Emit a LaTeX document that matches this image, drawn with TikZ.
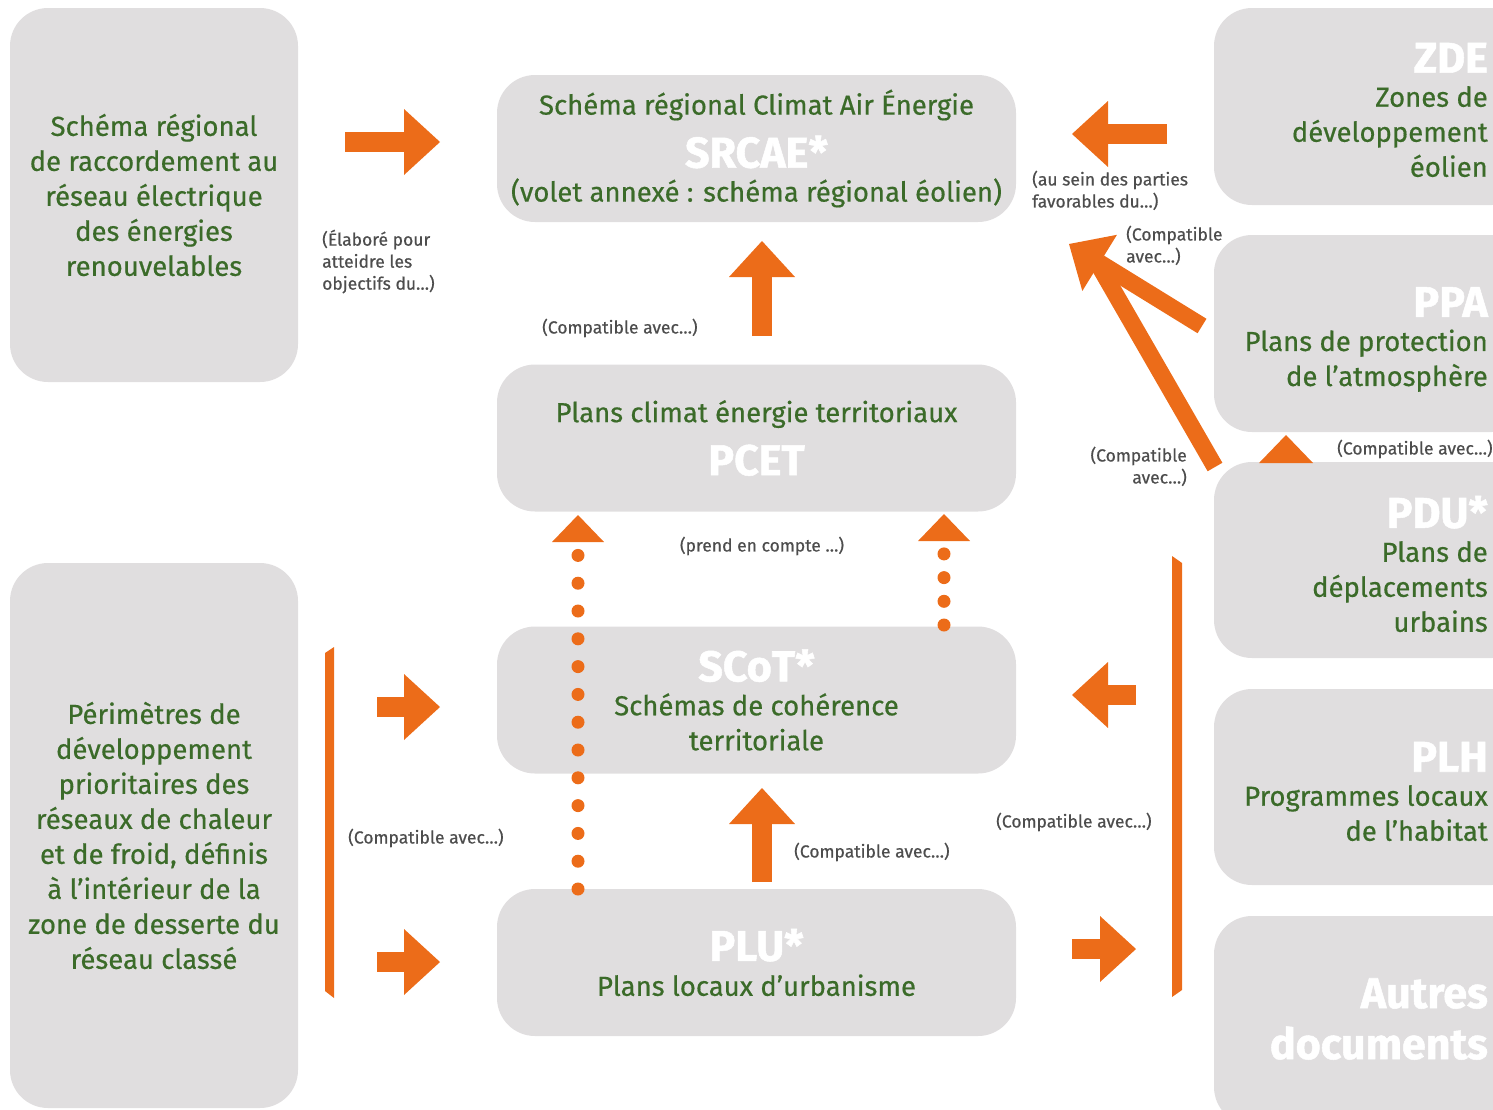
\documentclass[tikz,border=0pt]{standalone}
\usepackage{fontspec}
\setmainfont{Fira Sans}
\newfontfamily\greenfont[FakeBold=0.5]{Fira Sans}
\newfontfamily\notefont[FakeBold=0.6]{Fira Sans}
\newfontfamily\titlefont[FakeBold=1.2]{Fira Sans}
\usetikzlibrary{arrows.meta,positioning}

\definecolor{boxgray}{RGB}{224,222,223}
\definecolor{leafgreen}{RGB}{59,107,41}
\definecolor{arrorange}{RGB}{236,108,25}
\definecolor{notegray}{RGB}{77,77,77}

\newcommand{\greenf}{\greenfont\fontsize{27.5}{35}\selectfont\lineskiplimit=-100pt}
\newcommand{\notef}{\notefont\fontsize{17.5}{22}\selectfont\lineskiplimit=-100pt}
\newcommand{\ttl}[1]{{\titlefont\bfseries\fontsize{43}{45}\selectfont\color{white}#1}}

\begin{document}
\begin{tikzpicture}[x=1pt, y=-1pt,
	bstyle/.style={rectangle, rounded corners=38pt, fill=boxgray, inner sep=0pt,
	align=center, font=\greenf, text=leafgreen},
	rstyle/.style={inner sep=0pt, align=right, font=\greenf, text=leafgreen, anchor=east},
	nstyle/.style={inner sep=0pt, align=left, font=\notef, text=notegray},
	astyle/.style={draw=arrorange, line width=20pt,
	-{Triangle[length=36pt, width=66pt, line width=0pt]}},
	dstyle/.style={draw=arrorange, line width=13pt, line cap=round,
	-{Triangle[length=27pt, width=52pt, line width=0pt]}},
	]
	\useasboundingbox (0,0) rectangle (1493,1109);
	\clip (0,0) rectangle (1493,1109);
	
	% left column
	\node[bstyle, minimum width=288pt, minimum height=374pt] (srre) at (154,195)
	{Schéma régional\\de raccordement au\\réseau électrique\\des énergies\\renouvelables};
	\node[bstyle, minimum width=288pt, minimum height=545pt] (pdp) at (154,835.5)
	{Périmètres de\\développement\\prioritaires des\\réseaux de chaleur\\et de froid, définis\\à l’intérieur de la\\zone de desserte du\\réseau classé};
	
	% middle column
	\node[bstyle, minimum width=519pt, minimum height=147pt] (srcae) at (756.5,148.5)
	{Schéma régional Climat Air Énergie\\[18pt]\ttl{SRCAE*}\\[-1pt](volet annexé : schéma régional éolien)};
	\node[bstyle, minimum width=519pt, minimum height=147pt] (pcet) at (756.5,438)
	{Plans climat énergie territoriaux\\[18pt]\ttl{PCET}};
	\node[bstyle, minimum width=519pt, minimum height=147pt] (scot) at (756.5,700)
	{\ttl{SCoT*}\\[-1pt]Schémas de cohérence\\territoriale};
	\node[bstyle, minimum width=519pt, minimum height=147pt] (plu) at (756.5,962.5)
	{\ttl{PLU*}\\Plans locaux d’urbanisme};
	
	% right column
	\node[bstyle, minimum width=316pt, minimum height=197pt] (zde) at (1372,106.5) {};
	\node[bstyle, minimum width=316pt, minimum height=197pt] (ppa) at (1372,333.5) {};
	\node[bstyle, minimum width=316pt, minimum height=196pt] (pdu) at (1372,560) {};
	\node[bstyle, minimum width=316pt, minimum height=196pt] (plh) at (1372,787) {};
	\node[bstyle, minimum width=316pt, minimum height=209pt] (autres) at (1372,1020.5) {};
	\node[rstyle] (zdetxt) at (1488,110) {\ttl{ZDE}\\[-1pt]Zones de\\développement\\éolien};
	\node[rstyle] (ppatxt) at (1488,339.5) {\ttl{PPA}\\[-1pt]Plans de protection\\de l’atmosphère};
	\node[rstyle] (pdutxt) at (1488,564) {\ttl{PDU*}\\[-1pt]Plans de\\déplacements\\urbains};
	\node[rstyle] (plhtxt) at (1488,791.5) {\ttl{PLH}\\[-1pt]Programmes locaux\\de l’habitat};
	\node[rstyle] (autrestxt) at (1488,1019) {\ttl{Autres}\\[16pt]\ttl{documents}};
	
	% arrows
	\coordinate (tipdiag) at (1069,244);
	\coordinate (pputip) at (1286,435);
	\draw[astyle] (345,142) -- (440,142);
	\draw[astyle] (1167,134) -- (1072,134);
	\draw[astyle] (762,336) -- (762,241);
	\draw[draw=arrorange, line width=17pt] (1215,467) -- (1090,250);
	\draw[astyle, line width=17pt] (1202,326) -- (tipdiag);
	\draw[astyle, -{Triangle[length=28pt, width=54pt, line width=0pt]}] (pdu.north -| pputip) -- (pputip);
	\draw[dstyle, dash pattern=on 0pt off 27.8pt] (578,889) -- (578,515);
	\draw[dstyle, dash pattern=on 0pt off 23.7pt] (944,625) -- (944,514);
	\draw[astyle] (762,882) -- (762,788);
	\draw[astyle] (377,707) -- (440,707);
	\draw[astyle] (377,962) -- (440,962);
	\draw[astyle] (1136,695) -- (1072,695);
	\draw[astyle] (1072,949) -- (1136,949);
	
	% brackets
	\fill[arrorange] (325,653) -- (334,647) -- (334,998) -- (325,991) -- cycle;
	\fill[arrorange] (1172,556) -- (1182,563) -- (1182,990) -- (1172,997) -- cycle;
	
	% notes
	\node[nstyle, anchor=north west] (elab) at (322,229.5) {(Élaboré pour\\atteidre les\\objectifs du…)};
	\node[nstyle, anchor=north west] (cpt1) at (542,318.5) {(Compatible avec…)};
	\node[nstyle, anchor=north west] (sein) at (1032,170.5) {(au sein des parties\\favorables du…)};
	\node[nstyle, anchor=north west] (cpt2) at (1126,225.5) {(Compatible\\avec…)};
	\node[nstyle, anchor=north east, align=right] (cpt3) at (1187,446.5) {(Compatible\\avec…)};
	\node[nstyle, anchor=north west] (cpt4) at (1337,439.5) {(Compatible avec…)};
	\node[nstyle, anchor=north] (prend) at (762,536.5) {(prend en compte …)};
	\node[nstyle, anchor=north west] (cpt5) at (348,828.5) {(Compatible avec…)};
	\node[nstyle, anchor=north west] (cpt6) at (794,842.5) {(Compatible avec…)};
	\node[nstyle, anchor=north west] (cpt7) at (996,812.5) {(Compatible avec…)};
\end{tikzpicture}
\end{document}
